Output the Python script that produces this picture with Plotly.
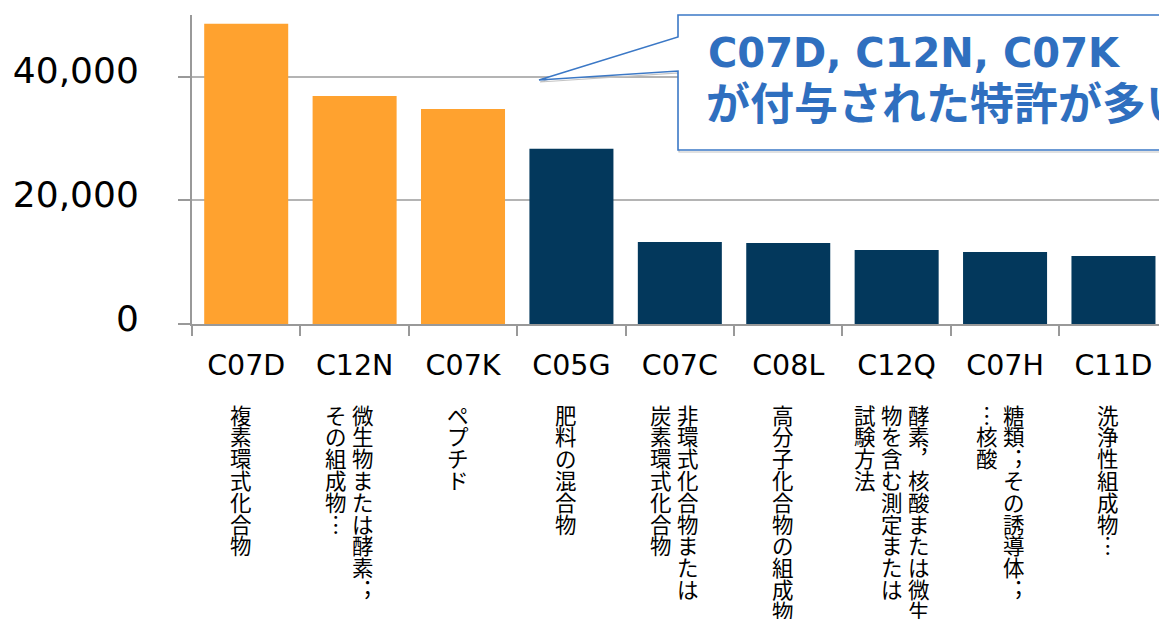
import plotly.graph_objects as go

# ---------------- data ----------------
categories = ["C07D", "C12N", "C07K", "C05G", "C07C", "C08L", "C12Q", "C07H", "C11D"]
counts = [48600, 36900, 34800, 28350, 13280, 13120, 11980, 11660, 11010]
highlighted = [True, True, True, False, False, False, False, False, False]
# Japanese descriptions, written vertically; columns listed right-to-left
descriptions = [
    ["複素環式化合物"],
    ["微生物または酵素︔", "その組成物︙"],
    ["ペプチド"],
    ["肥料の混合物"],
    ["非環式化合物または", "炭素環式化合物"],
    ["高分子化合物の組成物"],
    ["酵素︐核酸または微生", "物を含む測定または", "試験方法"],
    ["糖類︔その誘導体︔", "︙核酸"],
    ["洗浄性組成物︙"],
]
y_ticks = [0, 20000, 40000]
callout_lines = ["C07D, C12N, C07K", "が付与された特許が多い"]

# ---------------- style ----------------
ORANGE = "#FFA22F"
NAVY = "#03385C"
BLUE = "#2F6FBF"
W, H = 1159, 619
ML, MT, MB = 192, 15, 295
PW, PH = W - ML, H - MT - MB

def px_x(px):
    return (px - ML) / PW

def px_y(py):
    return (MT + PH - py) / PH

bar_colors = [ORANGE if h else NAVY for h in highlighted]

fig = go.Figure(
    go.Bar(
        x=categories,
        y=counts,
        marker=dict(color=bar_colors, line=dict(width=0)),
        hoverinfo="x+y",
    )
)

annotations = []
COL_PITCH = 27
ROW_PITCH = 21.8
FIRST_ROW = 90
DESC_OFFSET = -5
char_font = dict(family="Noto Sans CJK JP", size=21.5, color="#000000")
for i, cols in enumerate(descriptions):
    n = len(cols)
    for k, col in enumerate(cols):
        dx = DESC_OFFSET + ((n - 1) / 2 - k) * COL_PITCH
        for j, ch in enumerate(col):
            annotations.append(dict(
                x=categories[i], xref="x", y=0, yref="paper",
                xanchor="center", yanchor="middle",
                xshift=dx, yshift=-(FIRST_ROW + j * ROW_PITCH),
                text=ch, showarrow=False, font=char_font,
            ))

callout_sizes = [40, 44]
callout_left = [706, 704]
callout_mid = [53, 104]
for idx, line in enumerate(callout_lines):
    annotations.append(dict(
        x=px_x(callout_left[idx]), xref="paper", y=px_y(callout_mid[idx]), yref="paper",
        xanchor="left", yanchor="middle", text=line, showarrow=False,
        font=dict(family="DejaVu Sans, Noto Sans CJK JP", size=callout_sizes[idx],
                  color=BLUE, weight="bold"),
    ))

def callout_path(ox=0, oy=0):
    pts = [(678, 15), (1220, 15), (1220, 150), (678, 150), (678, 71), (539, 80), (678, 37)]
    s = ""
    for n, (x, y) in enumerate(pts):
        s += ("M" if n == 0 else "L") + f"{px_x(x + ox):.5f},{px_y(y + oy):.5f} "
    return s + "Z"

shapes = [
    dict(type="path", xref="paper", yref="paper", path=callout_path(1, 2),
         line=dict(color="#c4c4c4", width=1.2), fillcolor="rgba(0,0,0,0)", layer="above"),
    dict(type="path", xref="paper", yref="paper", path=callout_path(),
         line=dict(color="#3B78C6", width=1.6), fillcolor="white", layer="above"),
]

fig.update_layout(
    width=W, height=H,
    margin=dict(l=ML, r=0, t=MT, b=MB, pad=0),
    paper_bgcolor="white", plot_bgcolor="white",
    showlegend=False, bargap=0.225,
    annotations=annotations, shapes=shapes,
    font=dict(family="DejaVu Sans", color="#000000"),
)
fig.update_xaxes(
    type="category", range=[-0.5, 8.42],
    showline=True, linecolor="#999999", linewidth=2,
    ticks="outside", tickson="boundaries", ticklen=10, tickcolor="#999999", tickwidth=1.5,
    showgrid=False, tickfont=dict(family="DejaVu Sans", size=28.5, color="#000000"),
    ticklabelstandoff=15,
)
fig.update_yaxes(
    range=[0, 50000], tickvals=y_ticks, tickformat=",d",
    showline=True, linecolor="#999999", linewidth=2,
    ticks="outside", ticklen=12, tickcolor="#999999", tickwidth=1.5,
    showgrid=True, gridcolor="#b4b4b4", gridwidth=1.5, zeroline=False,
    tickfont=dict(family="DejaVu Sans", size=36, color="#000000"),
    ticklabelstandoff=32, ticklabelshift=-6,
)

fig.write_html(
    "out.html",
    config={"displayModeBar": False},
    post_script="document.body.style.margin='0';document.body.style.overflow='hidden';",
)
